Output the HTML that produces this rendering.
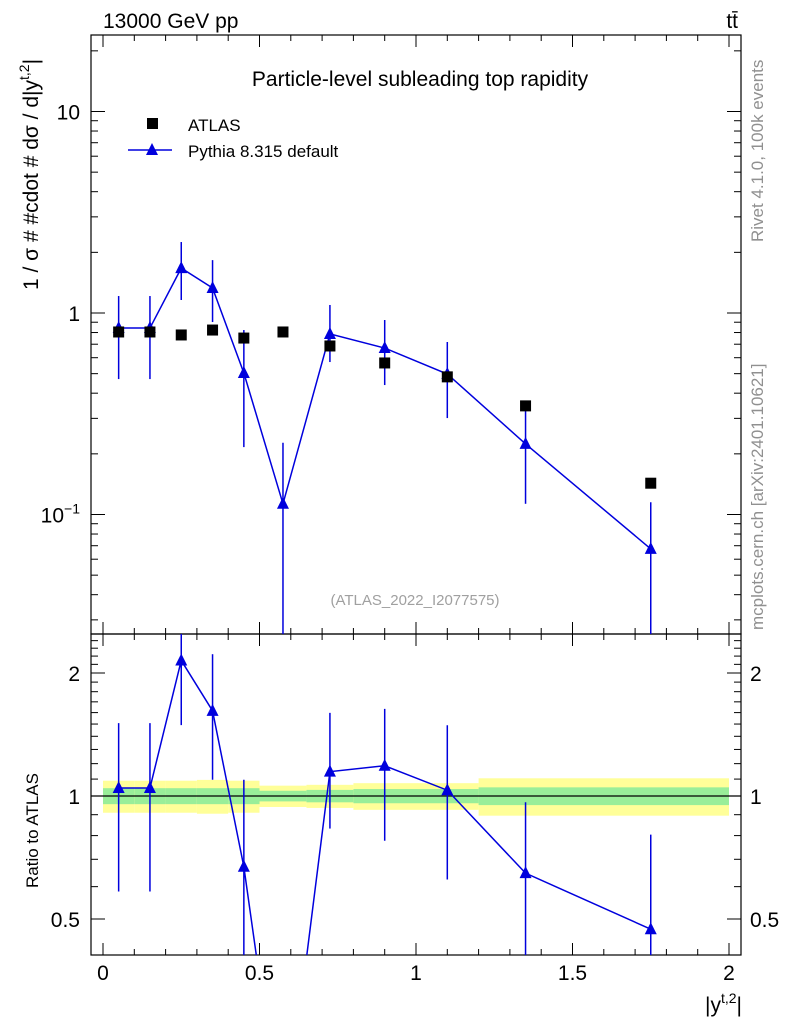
<!DOCTYPE html>
<html><head><meta charset="utf-8"><style>
html,body{margin:0;padding:0;background:#fff;width:786px;height:1024px;overflow:hidden;}
svg{display:block;font-family:"Liberation Sans",Arial,sans-serif;}
</style></head><body>
<svg id="c" width="786" height="1024" viewBox="0 0 786 1024" xmlns="http://www.w3.org/2000/svg"></svg>
<script>
const edges=[0,0.1,0.2,0.3,0.4,0.5,0.65,0.8,1.0,1.2,1.5,2.0];
const centers=[0.05,0.15,0.25,0.35,0.45,0.575,0.725,0.9,1.1,1.35,1.75];
const atlas=[0.805,0.805,0.778,0.823,0.751,0.805,0.686,0.565,0.482,0.346,0.143];
const pythia=[0.842,0.842,1.67,1.33,0.504,0.113,0.787,0.67,0.498,0.224,0.0675];
const pyUp=[1.214,1.214,2.25,1.83,0.823,0.227,1.096,0.923,0.718,0.334,0.115];
const pyDn=[0.47,0.47,1.16,0.902,0.216,0.001,0.571,0.439,0.301,0.113,0.02];
const bandTot=[0.09,0.09,0.09,0.095,0.09,0.06,0.065,0.075,0.075,0.105,0.105];
const bandStat=[0.045,0.045,0.045,0.045,0.045,0.03,0.035,0.04,0.04,0.05,0.05];
const xTicks=[0,0.5,1,1.5,2];
const xTickLabels=["0","0.5","1","1.5","2"];

const NS="http://www.w3.org/2000/svg";
const svg=document.getElementById('c');
function el(tag,attrs,parent){const e=document.createElementNS(NS,tag);for(const k in attrs)e.setAttribute(k,attrs[k]);(parent||svg).appendChild(e);return e;}
const L=91,R=741,T=35,M=634,B=955;
const X=v=>103+v*313;
const Ym=v=>313-Math.log10(v)*201.5;
const Yr=v=>796-Math.log10(v)*408.6;
const clipM=el('clipPath',{id:'cm'});el('rect',{x:L,y:T,width:R-L,height:M-T},clipM);
const clipR=el('clipPath',{id:'cr'});el('rect',{x:L,y:M,width:R-L,height:B-M},clipR);

for(let i=0;i<centers.length;i++){
  let r=el('rect',{x:X(edges[i]),y:Yr(1+bandTot[i]),width:X(edges[i+1])-X(edges[i]),height:Yr(1-bandTot[i])-Yr(1+bandTot[i]),fill:'#ffff99'});
  
  let g=el('rect',{x:X(edges[i]),y:Yr(1+bandStat[i]),width:X(edges[i+1])-X(edges[i]),height:Yr(1-bandStat[i])-Yr(1+bandStat[i]),fill:'#99ee99'});
  
}
el('line',{x1:L,x2:R,y1:Yr(1),y2:Yr(1),stroke:'#000','stroke-width':1.2});

for(const [y1,y2] of [[T,M],[M,B]]){el('rect',{x:L,y:y1,width:R-L,height:y2-y1,fill:'none',stroke:'#000','stroke-width':1.2});}

for(const [y1,y2] of [[T,M],[M,B]]){
  for(let v=0;v<=2.0001;v+=0.1){const maj=Math.abs(v*2-Math.round(v*2))<1e-6;const len=maj?12:6;
    el('line',{x1:X(v),x2:X(v),y1:y2,y2:y2-len,stroke:'#000'});el('line',{x1:X(v),x2:X(v),y1:y1,y2:y1+len,stroke:'#000'});}
}
xTicks.forEach((v,i)=>{const t=el('text',{x:X(v),y:980,'font-size':21,'text-anchor':'middle'});t.textContent=xTickLabels[i];});

for(let d=-2;d<=1;d++)for(let m=1;m<10;m++){const v=m*Math.pow(10,d);const y=Ym(v);if(y<T||y>M)continue;const len=m==1?14:7;
  el('line',{x1:L,x2:L+len,y1:y,y2:y,stroke:'#000'});el('line',{x1:R,x2:R-len,y1:y,y2:y,stroke:'#000'});}
[[10,"10"],[1,"1"]].forEach(([v,s])=>{const t=el('text',{x:80,y:Ym(v)+8,'font-size':21,'text-anchor':'end'});t.textContent=s;});
{const t=el('text',{x:80,y:Ym(0.1)+8,'font-size':21,'text-anchor':'end'});t.innerHTML='10<tspan dy="-9" font-size="14">−1</tspan>';}

for(let v=0.4;v<=2.5;v+=0.1){const y=Yr(v);if(y<M||y>B)continue;const maj=[0.5,1,2].some(q=>Math.abs(q-v)<1e-6);const len=maj?14:7;
  el('line',{x1:L,x2:L+len,y1:y,y2:y,stroke:'#000'});el('line',{x1:R,x2:R-len,y1:y,y2:y,stroke:'#000'});}
[[2,"2"],[1,"1"],[0.5,"0.5"]].forEach(([v,s])=>{
  const t=el('text',{x:80,y:Yr(v)+8,'font-size':21,'text-anchor':'end'});t.textContent=s;
  const t2=el('text',{x:750,y:Yr(v)+8,'font-size':21});t2.textContent=s;});

const gm=el('g',{'clip-path':'url(#cm)'});
let pts=centers.map((c,i)=>X(c)+','+Ym(pythia[i])).join(' ');
el('polyline',{points:pts,fill:'none',stroke:'#0000dd','stroke-width':1.5},gm);
centers.forEach((c,i)=>{
  const e=el('line',{x1:X(c),x2:X(c),y1:Ym(pyUp[i]),y2:Ym(pyDn[i]),stroke:'#0000dd','stroke-width':1.5},gm);
  
  const x=X(c),y=Ym(pythia[i]);
  const p=el('polygon',{points:`${x},${y-7} ${x-6},${y+5} ${x+6},${y+5}`,fill:'#0000dd'},gm);
  
  const s=el('rect',{x:X(c)-5.5,y:Ym(atlas[i])-5.5,width:11,height:11,fill:'#000'},gm);
  
});

const gr=el('g',{'clip-path':'url(#cr)'});
const ratio=pythia.map((p,i)=>p/atlas[i]);
el('polyline',{points:centers.map((c,i)=>X(c)+','+Yr(ratio[i])).join(' '),fill:'none',stroke:'#0000dd','stroke-width':1.5},gr);
centers.forEach((c,i)=>{
  const e=el('line',{x1:X(c),x2:X(c),y1:Yr(pyUp[i]/atlas[i]),y2:Yr(pyDn[i]/atlas[i]),stroke:'#0000dd','stroke-width':1.5},gr);
  
  const x=X(c),y=Yr(ratio[i]);
  const p=el('polygon',{points:`${x},${y-7} ${x-6},${y+5} ${x+6},${y+5}`,fill:'#0000dd'},gr);
  
});

function txt(x,y,s,attrs,name){const t=el('text',Object.assign({x:x,y:y},attrs));t.textContent=s;return t;}
txt(103,28,'13000 GeV pp',{'font-size':21},'header-left');
txt(738,28,'tt̄',{'font-size':21,'text-anchor':'end'},'header-right');
txt(420,86,'Particle-level subleading top rapidity',{'font-size':21,'text-anchor':'middle'},'plot-title');
el('rect',{x:147,y:118,width:11,height:11,fill:'#000'});
txt(188,131,'ATLAS',{'font-size':17},'legend-atlas');
el('line',{x1:128,x2:172,y1:150,y2:150,stroke:'#0000dd','stroke-width':1.5});
el('polygon',{points:'152,143 146,155 158,155',fill:'#0000dd'});
txt(188,157,'Pythia 8.315 default',{'font-size':17},'legend-pythia');
txt(415,605,'(ATLAS_2022_I2077575)',{'font-size':15,'text-anchor':'middle',fill:'#a0a0a0'},'analysis-id');
txt(0,0,'',{'font-size':21,transform:'translate(38,290) rotate(-90)'},'y-axis-title').innerHTML='1 / σ # #cdot # dσ / d|y<tspan dy="-9" font-size="14">t,2</tspan><tspan dy="9">|</tspan>';
txt(0,0,'Ratio to ATLAS',{'font-size':17,transform:'translate(38,888) rotate(-90)'},'ratio-y-axis-title');
txt(0,0,'',{'font-size':21,'text-anchor':'end',x:742,y:1012},'x-axis-title').innerHTML='|y<tspan dy="-9" font-size="14">t,2</tspan><tspan dy="9">|</tspan>';
txt(0,0,'Rivet 4.1.0,  100k events',{'font-size':17,fill:'#909090',transform:'translate(763,242) rotate(-90)'},'rivet-label');
txt(0,0,'mcplots.cern.ch [arXiv:2401.10621]',{'font-size':17,fill:'#909090',transform:'translate(763,630) rotate(-90)'},'mcplots-label');
</script>
</body></html>
